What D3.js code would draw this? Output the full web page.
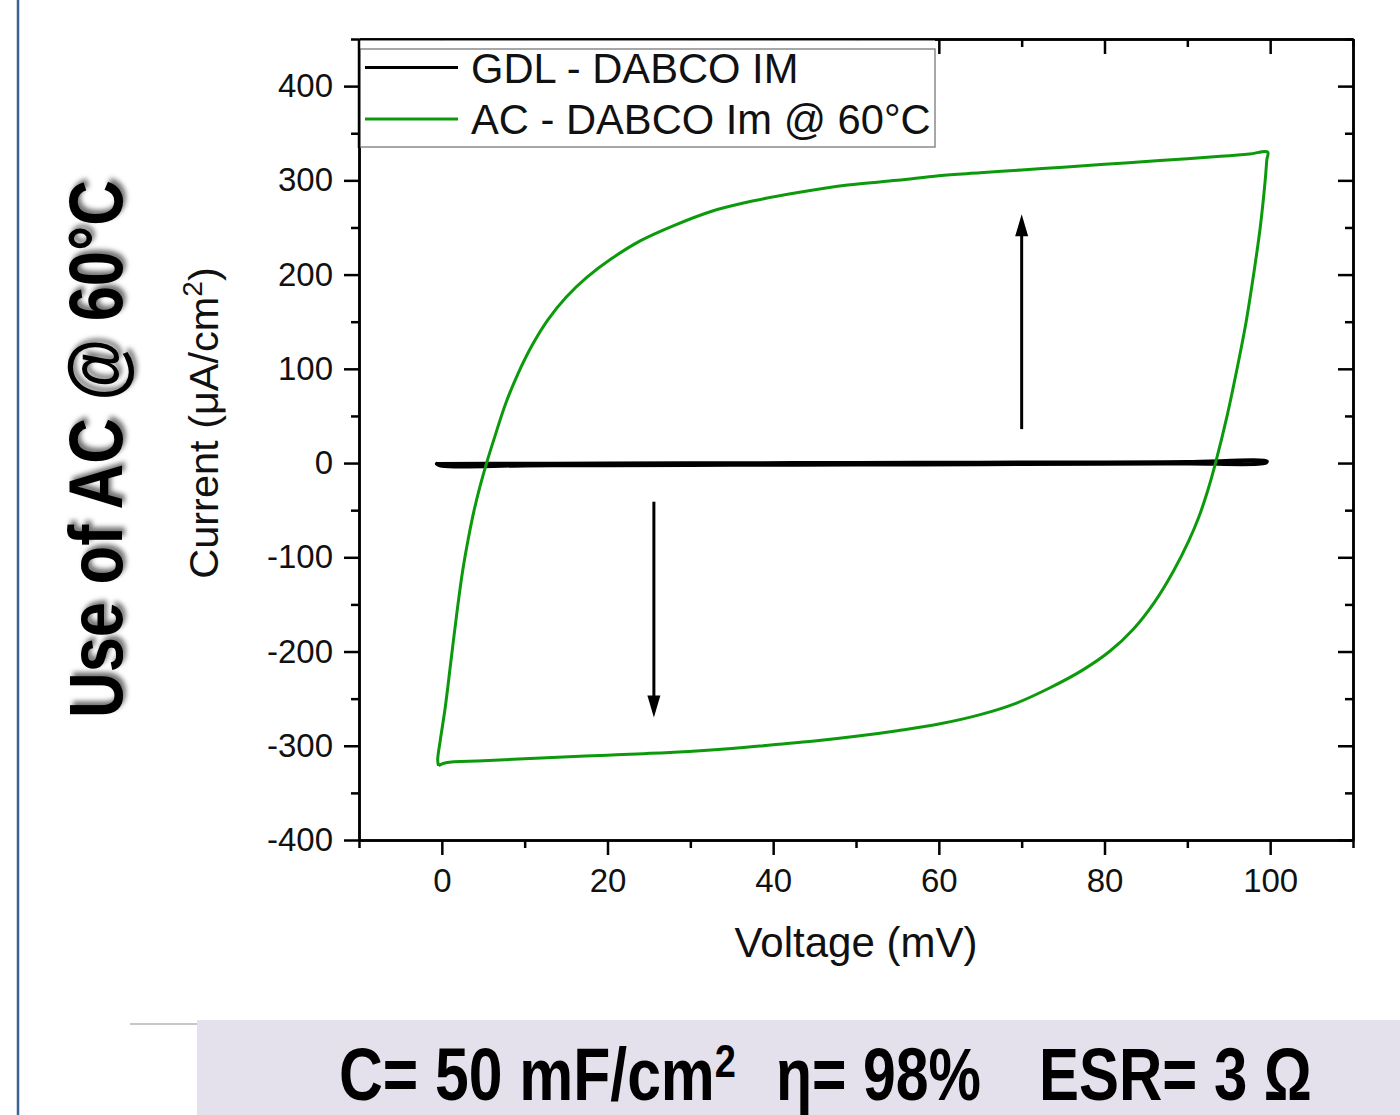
<!DOCTYPE html>
<html>
<head>
<meta charset="utf-8">
<script src="https://cdn.jsdelivr.net/npm/d3@7/dist/d3.min.js"></script>
<style>
  body { margin: 0; background: #fff; }
  text { font-family: "Liberation Sans", Arial, sans-serif; }
  .narrow { font-family: "Liberation Sans Narrow", "Arial Narrow", "Liberation Sans", sans-serif; font-weight: bold; }
</style>
</head>
<body>
<script>
// ---- data ----
var xTicks = [0, 20, 40, 60, 80, 100];
var xMinor = [-10, 10, 30, 50, 70, 90, 110];
var yTicks = [-400, -300, -200, -100, 0, 100, 200, 300, 400];
var yMinor = [-350, -250, -150, -50, 50, 150, 250, 350, 450];

// GDL - DABCO IM : a very thin loop around 0
var gdlV = [-0.6, 10, 20, 35, 50, 65, 80, 90, 99.6, 99.4, 90, 80, 65, 50, 35, 20, 10, 0, -0.6];
var gdlI = [-0.8, -0.6, -0.4, -0.1, 0.2, 0.5, 0.8, 1.2, 1.8, 0.0, -0.5, -0.9, -1.3, -1.7, -2.0, -2.3, -2.6, -2.9, -0.8];

// AC - DABCO Im @ 60°C : CV loop, forward sweep then reverse
var acV = [-0.4, -0.5, -0.2, 0.4, 1.1, 1.8, 2.5, 3.2, 3.9, 4.6, 5.4, 6.5, 7.7, 9.2, 10.9, 12.8, 15.0, 17.5, 20.5, 24, 28, 32.5, 37.5, 43, 49, 55, 60, 65, 70, 75, 80, 85, 90, 94, 97.5, 99.7,
           99.6, 99.4, 98.8, 98.0, 97.1, 96.0, 94.8, 93.4, 92.4, 91.4, 90.2, 88.3, 86.0, 83.5, 80.6, 77.3, 73.3, 69.3, 65, 60, 55, 50, 45, 40, 35, 28, 20, 12, 5, 0.5, -0.4];
var acI = [-321, -315, -295, -260, -210, -160, -115, -80, -50, -25, 0, 31, 63, 95, 125, 152, 176, 197, 217, 236, 252, 267, 278, 287, 295, 300, 305, 308, 311, 314, 317, 320, 323, 325.5, 328, 330,
           322, 300, 250, 200, 150, 100, 50, 0, -31, -57, -82, -115, -148, -176, -200, -220, -239, -255, -267, -277, -284, -290, -295, -299, -303, -307, -310, -313, -316, -318, -321];

var legendLabels = ["GDL - DABCO IM", "AC - DABCO Im @ 60°C"];
var seriesColors = ["#000000", "#0c9a0c"];

// scan direction arrows
var arrowV = [70, 25.6];
var arrowFrom = [36, -41];
var arrowTo = [264, -270];

// ---- layout ----
var W = 1400, H = 1115;
var plot = { left: 359, right: 1353, top: 39, bottom: 840 };

var svg = d3.select("body").append("svg")
  .attr("width", W).attr("height", H);

svg.append("rect").attr("width", W).attr("height", H).attr("fill", "#fff");

var defs = svg.append("defs");
var shadow = defs.append("filter").attr("id", "shadow")
  .attr("x", "-20%").attr("y", "-20%").attr("width", "140%").attr("height", "140%");
shadow.append("feDropShadow")
  .attr("dx", 4).attr("dy", 3).attr("stdDeviation", 2.5)
  .attr("flood-color", "#000").attr("flood-opacity", 0.55);

// slide decorations
svg.append("line")
  .attr("x1", 18).attr("x2", 18).attr("y1", 0).attr("y2", H)
  .attr("stroke", "#3a6391").attr("stroke-width", 2.5);

svg.append("line")
  .attr("x1", 130).attr("x2", 197).attr("y1", 1024).attr("y2", 1024)
  .attr("stroke", "#b4b4b4").attr("stroke-width", 1.5);

svg.append("rect")
  .attr("x", 197).attr("y", 1020).attr("width", W - 197).attr("height", H - 1020)
  .attr("fill", "#e4e0ec");

// scales
var xRange = d3.scaleLinear().domain([-10, 110]).range([plot.left, plot.right]);
var yRange = d3.scaleLinear().domain([-400, 450]).range([plot.bottom, plot.top]);

var fmt = function (d) { return String(d); };

// axes: major + minor, outward on left/bottom, inward on top/right
function axisGroup(axis, tx, ty) {
  var g = svg.append("g")
    .attr("transform", "translate(" + tx + "," + ty + ")")
    .call(axis);
  g.select(".domain").attr("stroke", "#000").attr("stroke-width", 2.5);
  g.selectAll(".tick line").attr("stroke", "#000").attr("stroke-width", 2.5);
  g.selectAll(".tick text").attr("fill", "#111").style("font-size", "33px")
    .style("font-family", "'Liberation Sans', Arial, sans-serif");
  return g;
}

axisGroup(d3.axisBottom(xRange).tickValues(xMinor).tickSize(8).tickSizeOuter(0).tickFormat(""), 0, plot.bottom);
axisGroup(d3.axisBottom(xRange).tickValues(xTicks).tickSize(15).tickSizeOuter(0).tickPadding(14).tickFormat(fmt), 0, plot.bottom);
axisGroup(d3.axisLeft(yRange).tickValues(yMinor).tickSize(8).tickSizeOuter(0).tickFormat(""), plot.left, 0);
axisGroup(d3.axisLeft(yRange).tickValues(yTicks).tickSize(15).tickSizeOuter(0).tickPadding(11).tickFormat(fmt), plot.left, 0);
axisGroup(d3.axisTop(xRange).tickValues(xMinor).tickSize(-8).tickSizeOuter(0).tickFormat(""), 0, plot.top);
axisGroup(d3.axisTop(xRange).tickValues(xTicks).tickSize(-15).tickSizeOuter(0).tickFormat(""), 0, plot.top);
axisGroup(d3.axisRight(yRange).tickValues(yMinor).tickSize(-8).tickSizeOuter(0).tickFormat(""), plot.right, 0);
axisGroup(d3.axisRight(yRange).tickValues(yTicks).tickSize(-15).tickSizeOuter(0).tickFormat(""), plot.right, 0);

// curves
var valueline = d3.line()
  .x(function (d) { return xRange(d[0]); })
  .y(function (d) { return yRange(d[1]); })
  .curve(d3.curveCatmullRom.alpha(0.5));

var gdl = gdlV.map(function (v, i) { return [v, gdlI[i]]; });
var ac = acV.map(function (v, i) { return [v, acI[i]]; });

svg.append("path").datum(gdl)
  .attr("d", valueline)
  .attr("fill", "none").attr("stroke", seriesColors[0])
  .attr("stroke-width", 3.8).attr("stroke-linejoin", "round").attr("stroke-linecap", "round");

svg.append("path").datum(ac)
  .attr("d", valueline)
  .attr("fill", "none").attr("stroke", seriesColors[1])
  .attr("stroke-width", 3).attr("stroke-linejoin", "round");

// arrows
arrowV.forEach(function (v, i) {
  var x = xRange(v), y0 = yRange(arrowFrom[i]), y1 = yRange(arrowTo[i]);
  var dir = y1 < y0 ? 1 : -1;   // 1 = pointing up
  var headLen = 22, headW = 6.5;
  svg.append("line")
    .attr("x1", x).attr("x2", x)
    .attr("y1", y0).attr("y2", y1 + dir * headLen * 0.8)
    .attr("stroke", "#000").attr("stroke-width", 3);
  svg.append("path")
    .attr("d", "M" + x + "," + y1 +
      "L" + (x - headW) + "," + (y1 + dir * headLen) +
      "L" + (x + headW) + "," + (y1 + dir * headLen) + "Z")
    .attr("fill", "#000");
});

// legend
svg.append("rect")
  .attr("x", plot.left).attr("y", plot.top + 1.5).attr("width", 935 - plot.left).attr("height", 147 - plot.top - 1.5)
  .attr("fill", "#fff");
svg.append("rect")
  .attr("x", plot.left + 1).attr("y", 49).attr("width", 935 - plot.left - 1).attr("height", 98)
  .attr("fill", "none").attr("stroke", "#8a8a8a").attr("stroke-width", 1.5);
// redraw the left axis line over the legend fill
svg.append("line")
  .attr("x1", plot.left).attr("x2", plot.left).attr("y1", plot.top).attr("y2", 148)
  .attr("stroke", "#000").attr("stroke-width", 2.5);

var legendY = [67.5, 119];
legendLabels.forEach(function (label, i) {
  svg.append("line")
    .attr("x1", 365).attr("x2", 458).attr("y1", legendY[i]).attr("y2", legendY[i])
    .attr("stroke", seriesColors[i]).attr("stroke-width", 3.2);
  svg.append("text")
    .attr("x", 471).attr("y", legendY[i] + 15)
    .style("font-size", "41.7px").attr("fill", "#111")
    .text(label);
});

// axis titles
svg.append("text")
  .attr("x", (plot.left + plot.right) / 2).attr("y", 957)
  .attr("text-anchor", "middle")
  .style("font-size", "42px").attr("fill", "#111")
  .text("Voltage (mV)");

var yt = svg.append("text")
  .attr("transform", "translate(218,423) rotate(-90)")
  .attr("text-anchor", "middle")
  .style("font-size", "41.5px").attr("fill", "#111");
yt.append("tspan").text("Current (\u03bcA/cm");
yt.append("tspan").attr("dy", -16).style("font-size", "28px").text("2");
yt.append("tspan").attr("dy", 16).text(")");

// slide title
svg.append("text")
  .attr("class", "narrow")
  .attr("transform", "translate(122,449) rotate(-90)")
  .attr("text-anchor", "middle")
  .attr("textLength", 538).attr("lengthAdjust", "spacingAndGlyphs")
  .style("font-size", "76px").attr("fill", "#000")
  .attr("filter", "url(#shadow)")
  .text("Use of AC @ 60\u00b0C");

// bottom summary: each piece squeezed to its measured span with a scale
function fitText(sel, x, y, targetW) {
  var w = sel.node().getComputedTextLength();
  sel.attr("transform", "translate(" + x + "," + y + ") scale(" + (targetW / w) + ",1)");
}
var s1 = svg.append("text").attr("class", "narrow")
  .style("font-size", "75px").attr("fill", "#000");
s1.append("tspan").text("C= 50 mF/cm");
s1.append("tspan").attr("dy", -23).style("font-size", "47px").text("2");
fitText(s1, 339, 1100, 397);

var s2 = svg.append("text").attr("class", "narrow")
  .style("font-size", "75px").attr("fill", "#000")
  .text("\u03b7= 98%");
fitText(s2, 776, 1100, 205);

var s3 = svg.append("text").attr("class", "narrow")
  .style("font-size", "75px").attr("fill", "#000")
  .text("ESR= 3 \u03a9");
fitText(s3, 1039, 1100, 273);
</script>
</body>
</html>
